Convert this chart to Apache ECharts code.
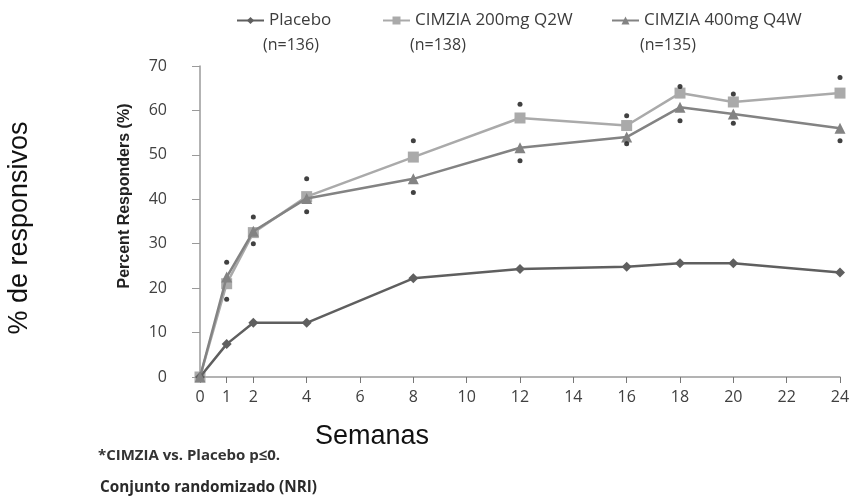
<!DOCTYPE html>
<html>
<head>
<meta charset="utf-8">
<script src="https://cdn.jsdelivr.net/npm/echarts@6/dist/echarts.min.js"></script>
<style>
html,body{margin:0;padding:0;background:#fff;}
#chart{width:856px;height:498px;}
</style>
</head>
<body>
<div id="chart"></div>
<script>
var weeks = [0, 1, 2, 4, 8, 12, 16, 18, 20, 24];
var placebo = [0, 7.4, 12.2, 12.2, 22.2, 24.3, 24.8, 25.6, 25.6, 23.5];
var cimzia200 = [0, 21, 32.5, 40.6, 49.5, 58.3, 56.6, 63.9, 61.9, 63.9];
var cimzia400 = [0, 22.5, 32.8, 40.2, 44.6, 51.6, 54, 60.7, 59.2, 56];
var starWeeks = [1, 1, 2, 2, 4, 4, 8, 8, 12, 12, 16, 16, 18, 18, 20, 20, 24, 24];
var starValues = [25.8, 17.5, 36, 30, 44.6, 37.2, 53.2, 41.5, 61.4, 48.7, 58.8, 52.5, 65.4, 57.7, 63.7, 57.1, 67.4, 53.2];
var xTicks = [0, 1, 2, 4, 6, 8, 10, 12, 14, 16, 18, 20, 22, 24];
var seriesNames = ['Placebo', 'CIMZIA 200mg Q2W', 'CIMZIA 400mg Q4W'];
var nLabels = ['(n=136)', '(n=138)', '(n=135)'];

function pairs(xs, ys) { return xs.map(function (x, i) { return [x, ys[i]]; }); }

var chart = echarts.init(document.getElementById('chart'));
var legendText = { fontSize: 17, color: '#3c3c3c', fontFamily: 'Open Sans' };
var nStyle = { fontSize: 16, fill: '#3c3c3c', fontFamily: 'Open Sans' };
var option = {
  animation: false,
  grid: { left: 200, right: 16, top: 66, bottom: 121, outerBoundsMode: 'none' },
  legend: [
    { left: 236, top: 12, padding: 0, data: [seriesNames[0]], itemWidth: 27, itemHeight: 9, itemGap: 0, textStyle: legendText },
    { left: 382, top: 12, padding: 0, data: [seriesNames[1]], itemWidth: 27, itemHeight: 10, itemGap: 0, textStyle: legendText },
    { left: 611, top: 12, padding: 0, data: [seriesNames[2]], itemWidth: 27, itemHeight: 10, itemGap: 0, textStyle: legendText }
  ],
  xAxis: {
    type: 'value', min: 0, max: 24, interval: 1,
    axisLine: { lineStyle: { color: '#9a9a9a', width: 1.5 } },
    axisTick: { show: true, length: 6, customValues: xTicks, lineStyle: { color: '#777' } },
    axisLabel: { customValues: xTicks, fontSize: 16, color: '#404040', margin: 12, fontFamily: 'Open Sans' },
    splitLine: { show: false }
  },
  yAxis: {
    type: 'value', min: 0, max: 70, interval: 10,
    axisLine: { show: true, lineStyle: { color: '#9a9a9a', width: 1.5 } },
    axisTick: { show: true, length: 8, lineStyle: { color: '#9a9a9a' } },
    axisLabel: { fontSize: 16, color: '#404040', margin: 33, fontFamily: 'Open Sans' },
    splitLine: { show: false }
  },
  graphic: [
    { type: 'text', left: 263, top: 37, style: Object.assign({ text: nLabels[0] }, nStyle) },
    { type: 'text', left: 410, top: 37, style: Object.assign({ text: nLabels[1] }, nStyle) },
    { type: 'text', left: 640, top: 37, style: Object.assign({ text: nLabels[2] }, nStyle) },
    { type: 'text', x: 20, y: 228, rotation: Math.PI / 2, style: { text: '% de responsivos', fontSize: 27, fill: '#111', fontFamily: 'Liberation Sans', align: 'center', verticalAlign: 'middle' } },
    { type: 'text', x: 125, y: 196, rotation: Math.PI / 2, style: { text: 'Percent Responders (%)', fontSize: 16, fontWeight: 'bold', fill: '#222', fontFamily: 'Liberation Sans', align: 'center', verticalAlign: 'middle' } },
    { type: 'text', x: 372, y: 437, style: { text: 'Semanas', fontSize: 27, fill: '#111', fontFamily: 'Liberation Sans', align: 'center', verticalAlign: 'middle' } },
    { type: 'text', x: 98, y: 456, style: { text: '*CIMZIA vs. Placebo p≤0.', fontSize: 15, fontWeight: 'bold', fill: '#333', fontFamily: 'Open Sans', verticalAlign: 'middle' } },
    { type: 'text', x: 100, y: 488, style: { text: 'Conjunto randomizado (NRI)', fontSize: 15.3, fontWeight: 'bold', fill: '#2a2a2a', fontFamily: 'Open Sans', verticalAlign: 'middle' } }
  ],
  series: [
    { name: seriesNames[0], type: 'line', data: pairs(weeks, placebo), symbol: 'diamond', symbolSize: 10,
      lineStyle: { color: '#5f5f5f', width: 2.5 }, itemStyle: { color: '#5f5f5f' }, z: 3 },
    { name: seriesNames[1], type: 'line', data: pairs(weeks, cimzia200), symbol: 'rect', symbolSize: 11,
      lineStyle: { color: '#aaaaaa', width: 2.5 }, itemStyle: { color: '#aaaaaa' }, z: 2 },
    { name: seriesNames[2], type: 'line', data: pairs(weeks, cimzia400), symbol: 'triangle', symbolSize: 11,
      lineStyle: { color: '#838383', width: 2.5 }, itemStyle: { color: '#838383' }, z: 3 },
    { name: 'sig', type: 'scatter', data: pairs(starWeeks, starValues), symbol: 'circle', symbolSize: 5,
      itemStyle: { color: '#111' }, z: 4 }
  ]
};
chart.setOption(option);
</script>
</body>
</html>
